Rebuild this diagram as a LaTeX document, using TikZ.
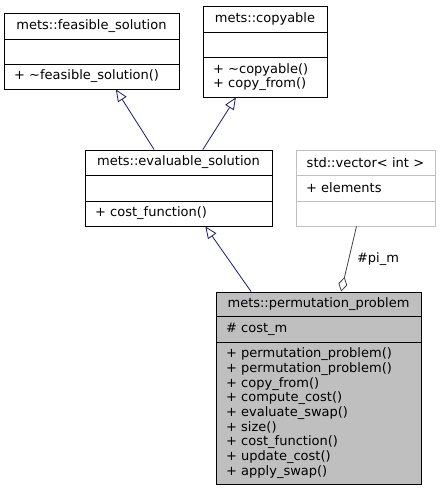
\documentclass[tikz,border=0pt]{standalone}
\usepackage{fontspec}
\setmainfont{DejaVu Sans}
\usetikzlibrary{positioning,fit,arrows.meta}
\definecolor{edgeblue}{HTML}{191970}
\definecolor{boxgray}{HTML}{BFBFBF}
\definecolor{aggrgray}{HTML}{404040}
\begin{document}
\begin{tikzpicture}[x=1pt,y=-1pt,line width=0.8pt,
        font=\fontsize{13pt}{14.7pt}\selectfont,
        part/.style={draw,outer sep=0pt,inner xsep=10pt,inner ysep=0pt,align=left},
        head/.style={part,align=center,anchor=north},
        whole/.style={fit=#1,inner sep=0pt},
        inherit/.style={draw=edgeblue,-{Triangle[open,length=12pt,width=10pt]}},
        aggr/.style={draw=aggrgray,-{Diamond[open,length=15pt,width=9pt]}}]
\useasboundingbox (0,0) rectangle (440,491);

% base classes
\node[head,text width=155pt,minimum height=26pt] (feashead) at (91.5,13) {mets::feasible\_solution};
\node[part,text width=155pt,minimum height=25pt,below=0pt of feashead] (feasattr) {};
\node[part,text width=155pt,minimum height=25pt,below=0pt of feasattr] (feasops) {+ \textasciitilde feasible\_solution()};
\node[whole={(feashead)(feasops)}] (feas) {};

\node[head,text width=104pt,minimum height=26pt] (copyhead) at (265,6) {mets::copyable};
\node[part,text width=104pt,minimum height=25pt,below=0pt of copyhead] (copyattr) {};
\node[part,text width=104pt,minimum height=40pt,below=0pt of copyattr] (copyops) {+ \textasciitilde copyable()\\+ copy\_from()};
\node[whole={(copyhead)(copyops)}] (copy) {};

\node[head,text width=167pt,minimum height=25pt] (evalhead) at (178.5,150) {mets::evaluable\_solution};
\node[part,text width=167pt,minimum height=26pt,below=0pt of evalhead] (evalattr) {};
\node[part,text width=167pt,minimum height=25pt,below=0pt of evalattr] (evalops) {+ cost\_function()};
\node[whole={(evalhead)(evalops)}] (eval) {};

% member type
\node[head,draw=boxgray,text width=119pt,minimum height=25pt] (vechead) at (365.5,150) {std::vector< int >};
\node[part,draw=boxgray,text width=119pt,minimum height=26pt,below=0pt of vechead] (vecattr) {+ elements};
\node[part,draw=boxgray,text width=119pt,minimum height=25pt,below=0pt of vecattr] (vecops) {};
\node[whole={(vechead)(vecops)}] (vec) {};

% derived class
\node[head,fill=boxgray,text width=185pt,minimum height=24pt] (permhead) at (318.5,292) {mets::permutation\_problem};
\node[part,fill=boxgray,text width=185pt,minimum height=26pt,below=0pt of permhead] (permattr) {\# cost\_m};
\node[part,fill=boxgray,text width=185pt,minimum height=142pt,below=0pt of permattr] (permops) {+ permutation\_problem()\\+ permutation\_problem()\\+ copy\_from()\\+ compute\_cost()\\+ evaluate\_swap()\\+ size()\\+ cost\_function()\\+ update\_cost()\\+ apply\_swap()};
\node[whole={(permhead)(permops)}] (perm) {};

\draw[inherit] (eval) -- (feas);
\draw[inherit] (eval) -- (copy);
\draw[inherit] (perm) -- (eval);
\draw[aggr] (vec) -- (perm) node[midway,right=4.5pt] {\#pi\_m};

\end{tikzpicture}
\end{document}
